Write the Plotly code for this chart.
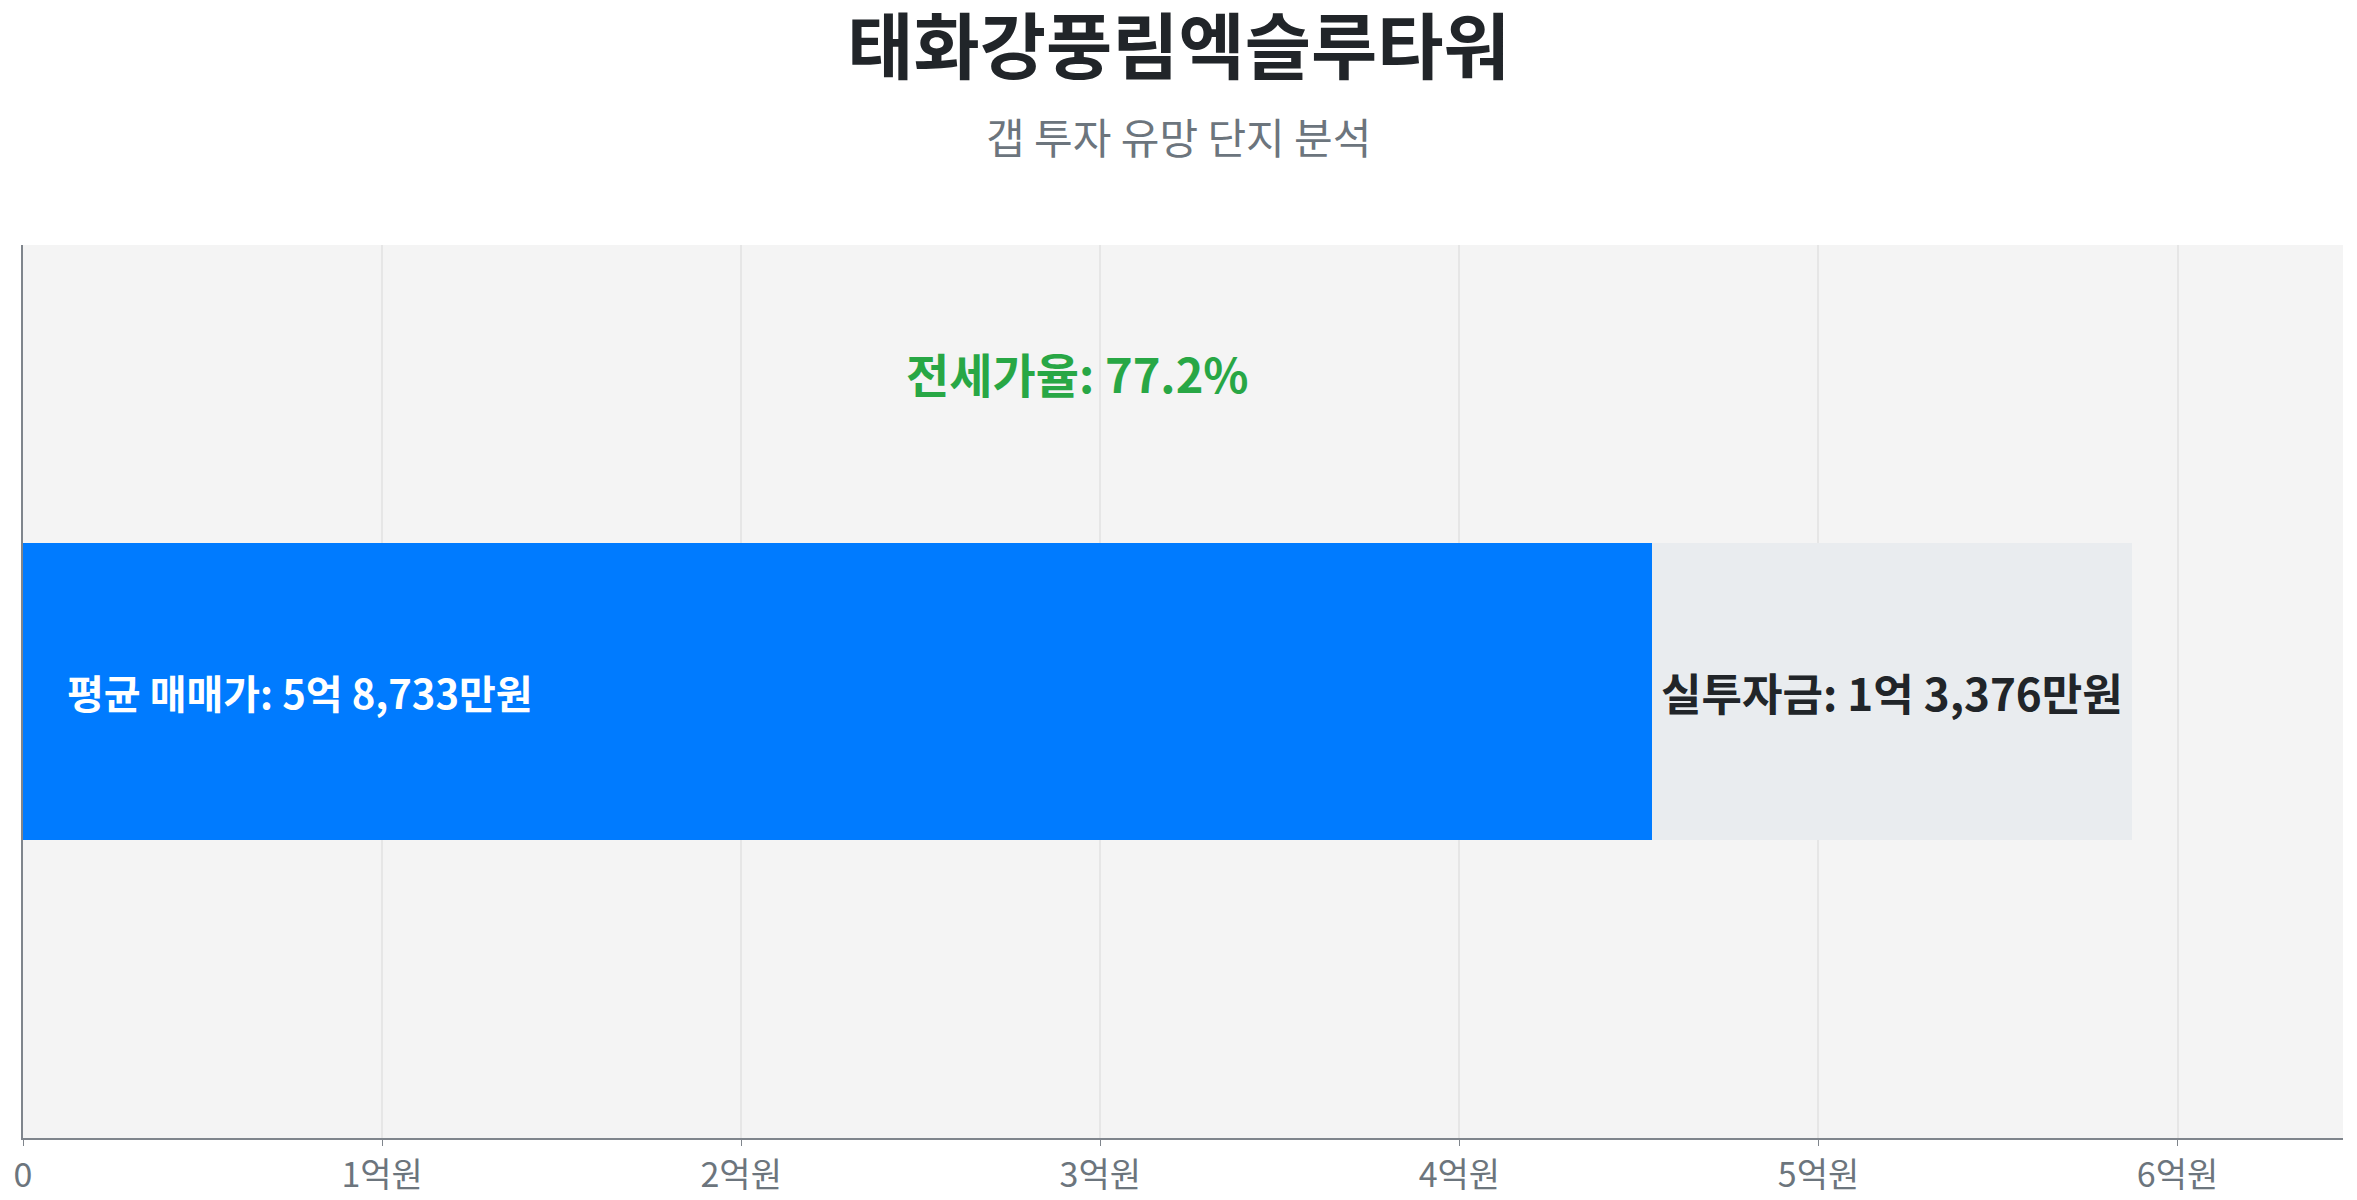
import plotly.graph_objects as go

# 단위: 만원
complex_name = "태화강풍림엑슬루타워"
subtitle = "갭 투자 유망 단지 분석"
avg_price = [58733]
gap_invest = [13376]
tick_vals = [0, 1, 2, 3, 4, 5, 6]
tick_text = ["0", "1억원", "2억원", "3억원", "4억원", "5억원", "6억원"]

jeonse = [p - g for p, g in zip(avg_price, gap_invest)]
ratio = jeonse[0] / avg_price[0] * 100


def fmt_won(v):
    eok, man = divmod(v, 10000)
    return f"{eok}억 {man:,}만원"


to_eok = lambda vals: [v / 10000 for v in vals]
font = "Noto Sans CJK KR"
W, H = 2357, 1200
L, R, T, B = 15, 22, 237, 70

fig = go.Figure()
fig.add_trace(go.Bar(
    y=[complex_name], x=to_eok(jeonse), orientation="h",
    marker=dict(color="#007bff", line_width=0),
    hoverinfo="skip",
))
fig.add_trace(go.Bar(
    y=[complex_name], x=to_eok(gap_invest), orientation="h",
    marker=dict(color="#e9ecef", line_width=0),
    text=[f"<b>실투자금: {fmt_won(gap_invest[0])}</b>"],
    textposition="inside", insidetextanchor="middle", constraintext="none",
    textfont=dict(family=font, size=44, color="#212529"),
    hoverinfo="skip",
))

total = avg_price[0] / 10000
fig.add_annotation(
    x=total * 0.02, y=complex_name, xref="x", yref="y",
    text=f"<b>평균 매매가: {fmt_won(avg_price[0])}</b>",
    showarrow=False, xanchor="left", yanchor="middle",
    font=dict(family=font, size=40, color="white"),
)
fig.add_annotation(
    x=total / 2, y=0.857, xref="x", yref="paper",
    text=f"<b>전세가율: {ratio:.1f}%</b>",
    showarrow=False, xanchor="center", yanchor="middle",
    font=dict(family=font, size=47, color="#28a745"),
)
# 제목/부제목은 창 가운데 기준
cx = (W / 2 - 8)
fig.add_annotation(
    x=(cx - L) / (W - L - R), y=(H - B - 127) / (H - T - B),
    xref="paper", yref="paper",
    text=subtitle, showarrow=False, xanchor="center", yanchor="middle",
    font=dict(family=font, size=42, color="#6c757d"),
)

fig.update_layout(
    title=dict(text=f"<b>{complex_name}</b>", x=cx / W, xanchor="center",
               y=1 - 40 / H, yanchor="middle", yref="container",
               font=dict(family=font, size=72, color="#212529")),
    barmode="stack", bargap=0.667, showlegend=False,
    width=W, height=H,
    margin=dict(l=L, r=R, t=T, b=B, autoexpand=False),
    paper_bgcolor="white", plot_bgcolor="#f4f4f4",
    font=dict(family=font),
)
fig.update_xaxes(
    range=[0, total * 1.1], tickvals=tick_vals, ticktext=tick_text,
    showgrid=True, gridcolor="#e6e6e6", gridwidth=1.5,
    showline=True, linecolor="#7f858c", linewidth=2,
    ticks="outside", ticklen=6, tickcolor="#7f858c",
    tickfont=dict(family=font, size=34, color="#6c757d"),
    zeroline=False, automargin=False,
)
fig.update_yaxes(
    showticklabels=False, showgrid=False, zeroline=False,
    showline=True, linecolor="#7f858c", linewidth=2, automargin=False,
)

fig.write_html("out.html")
